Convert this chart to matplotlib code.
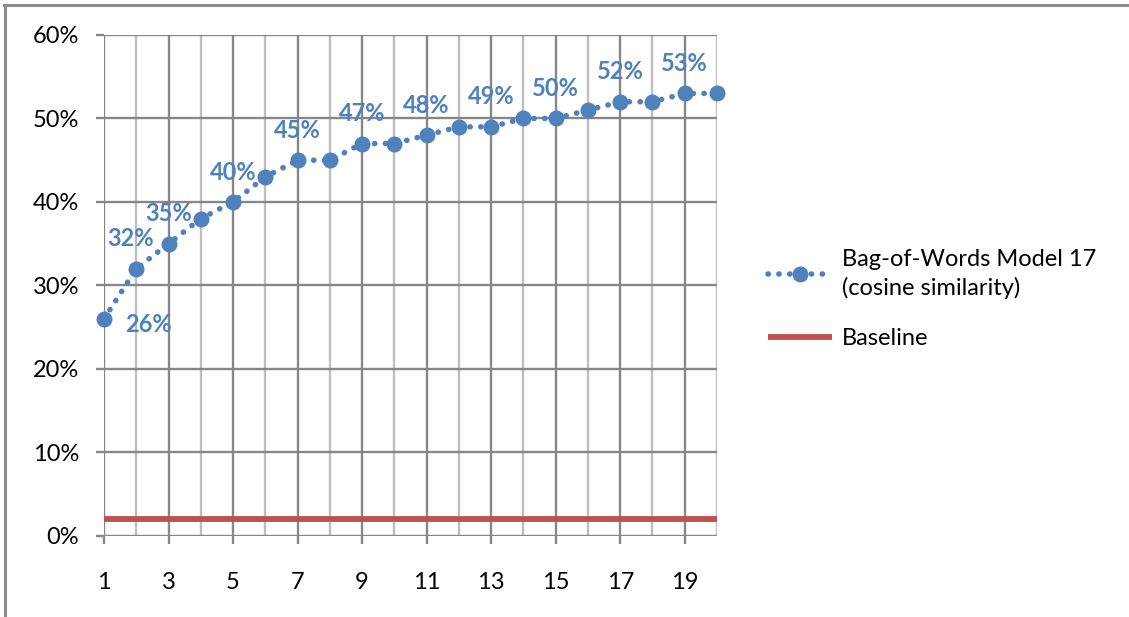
import matplotlib
matplotlib.use('Agg')
import matplotlib.pyplot as plt
from matplotlib.lines import Line2D
from matplotlib.ticker import FuncFormatter

plt.rcParams['font.family'] = ['Lato', 'DejaVu Sans']

# ---- data ----
steps = [1, 2, 3, 4, 5, 6, 7, 8, 9, 10, 11, 12, 13, 14, 15, 16, 17, 18, 19, 20]
bow_pct = [26, 32, 35, 38, 40, 43, 45, 45, 47, 47, 48, 49, 49, 50, 50, 51, 52, 52, 53, 53]
baseline_pct = [2, 2, 2, 2, 2, 2, 2, 2, 2, 2, 2, 2, 2, 2, 2, 2, 2, 2, 2, 2]
labelled_steps = [1, 2, 3, 5, 7, 9, 11, 13, 15, 17, 19]
y_ticks = [0, 10, 20, 30, 40, 50, 60]

blue = '#4F81BD'
red = '#C0504D'
dark_grid = '#878787'
light_grid = '#BEBEBE'

fig = plt.figure(figsize=(11.29, 6.17), dpi=100)
ax = fig.add_axes([0.0921, 0.1313, 0.5430, 0.8120])

ax.set_xlim(1, 20)
ax.set_ylim(0, 60)

# vertical gridlines: darker on odd steps, lighter on even
for s in steps:
    ax.axvline(s, color=dark_grid if s % 2 else light_grid, lw=1.7, zorder=1)
for t in y_ticks:
    ax.axhline(t, color=dark_grid, lw=1.7, zorder=1)

for sp in ax.spines.values():
    sp.set_visible(False)

ax.set_xticks([s for s in steps if s % 2])
ax.set_yticks(y_ticks)
ax.yaxis.set_major_formatter(FuncFormatter(lambda v, p: f'{v:.0f}%'))
ax.tick_params(axis='both', direction='out', length=6, width=1.7, color=dark_grid,
               labelsize=17, labelcolor='black')
ax.tick_params(axis='x', pad=20)
ax.tick_params(axis='y', pad=12)

ax.plot(steps, baseline_pct, color=red, lw=4.2, solid_capstyle='butt', zorder=3, label='Baseline')
ax.plot(steps, bow_pct, color=blue, lw=4.0, linestyle=(0, (0.05, 1.9)), dash_capstyle='round',
        marker='o', markersize=11.5, markeredgewidth=0, zorder=4,
        label='Bag-of-Words Model 17\n(cosine similarity)', clip_on=False)

# data labels
for s in labelled_steps:
    v = bow_pct[s - 1]
    if s == 1:
        off = (32, -4)
    elif s == 2:
        off = (-4, 21.5)
    else:
        off = (0, 21.5)
    ax.annotate(f'{v}%', (s, v), xytext=off, textcoords='offset points',
                ha='center', va='center', color=blue, fontsize=17, fontweight='bold', zorder=5)

handles, labels = ax.get_legend_handles_labels()
leg = fig.legend(handles[::-1], labels[::-1], loc='center left', bbox_to_anchor=(0.661, 0.515),
                 frameon=False, fontsize=17, handlelength=2.75, handletextpad=0.42,
                 labelspacing=1.25, markerscale=1.0)
for t in leg.get_texts():
    t.set_linespacing(1.35)

# chart area border (top and left)
fig.add_artist(Line2D([0.0035, 1.0], [0.9915, 0.9915], color='#8C8C8C', lw=2.2))
fig.add_artist(Line2D([0.0040, 0.0040], [0.0, 0.9915], color='#8C8C8C', lw=2.2))

fig.savefig('out.png', dpi=100, facecolor='white')
